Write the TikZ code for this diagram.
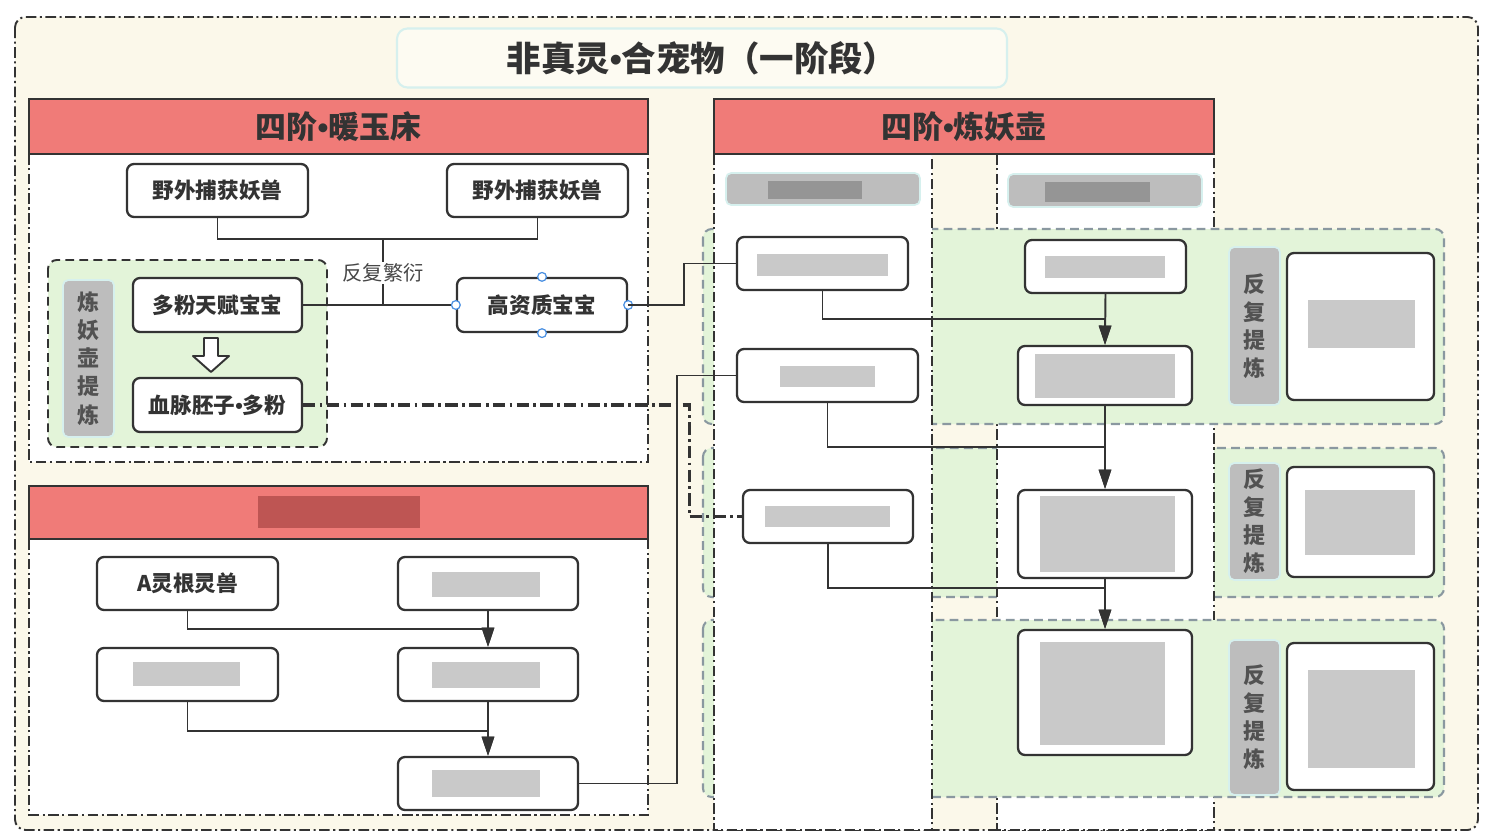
\documentclass[tikz,border=0pt]{standalone}
\usepackage{fontspec}
\setmainfont{Noto Sans CJK SC}
\newfontfamily\dotfont{Liberation Sans}
\newcommand{\mdot}{{\dotfont\bfseries •}}
\usetikzlibrary{arrows.meta}
\definecolor{ink}{HTML}{333333}
\definecolor{cream}{HTML}{FBF8EA}
\definecolor{leaf}{HTML}{E3F4D9}
\definecolor{salmon}{HTML}{F07B78}
\definecolor{lbl}{HTML}{BDBDBD}
\definecolor{cyanedge}{HTML}{D6F0EE}
\definecolor{grpedge}{HTML}{8A98A0}
\definecolor{handle}{HTML}{4A90E2}
\tikzset{
  bx/.style={draw=ink, fill=white, line width=1.3pt, rounded corners=4pt, inner sep=0pt,
    font=\bfseries\fontsize{12.3}{14}\selectfont, text=ink},
  sz/.style 2 args={minimum width=#1*0.02cm, minimum height=#2*0.02cm},
  hdr/.style={draw=ink, fill=salmon, line width=1.2pt, inner sep=0pt,
    font=\bfseries\fontsize{17.6}{20}\selectfont, text=ink},
  ddot/.style={dash pattern=on 6pt off 2pt on 1.2pt off 2pt},
  panel/.style={draw=ink, fill=white, line width=0.9pt, ddot},
  grp/.style={fill=leaf, draw=grpedge, line width=1.2pt, dash pattern=on 5pt off 3pt, rounded corners=5pt},
  vlabel/.style={fill=lbl, draw=cyanedge, line width=1pt, rounded corners=3pt, inner sep=0pt,
    align=center, font=\bfseries\fontsize{12.5}{16}\selectfont, text=ink!85},
  conn/.style={draw=ink, line width=1.1pt},
  arr/.style={conn, -{Triangle[length=11pt,width=7pt]}},
  blur/.style={fill=gray!70, opacity=0.6},
  hnd/.style={circle, draw=handle, fill=white, line width=0.7pt, inner sep=0pt, minimum size=5pt}
}
\begin{document}
\begin{tikzpicture}[x=0.02cm,y=-0.02cm]
\useasboundingbox (0,0) rectangle (1505,838);
\fill[white] (0,0) rectangle (1505,838);
% outer frame
\draw[fill=cream, draw=ink, line width=1.1pt, ddot, rounded corners=6pt] (15,17) rectangle (1478,830);
% title
\node[draw=cyanedge, fill=cream!60!white, line width=1.2pt, rounded corners=6pt, sz={610}{59},
  font=\bfseries\fontsize{19.6}{22}\selectfont, text=ink] (title) at (702,58) {非真灵\mdot 合宠物（一阶段）};

% ===== left panel 1 =====
\draw[panel] (29,154) rectangle (648,462);
\node[hdr, sz={619}{55}] (h1) at (338.5,126.5) {四阶\mdot 暖玉床};
\draw[fill=leaf, draw=ink, line width=1.1pt, dash pattern=on 5pt off 3pt, rounded corners=5pt] (48,260) rectangle (327,447);
\node[vlabel, sz={51}{157}] (lbl1) at (88.5,358.5) {炼\\妖\\壶\\提\\炼};
\node[bx, sz={181}{53}] (n1) at (217.5,190.5) {野外捕获妖兽};
\node[bx, sz={181}{53}] (n2) at (537.5,190.5) {野外捕获妖兽};
\node[bx, sz={169}{54}] (n3) at (217.5,305) {多粉天赋宝宝};
\node[bx, sz={169}{54}] (n4) at (217.5,405) {血脉胚子\mdot 多粉};
\node[bx, sz={170}{54}] (n5) at (542,305) {高资质宝宝};
\draw[draw=ink, fill=white, line width=1.1pt, line join=round]
  (204,338) -- (218,338) -- (218,356) -- (229,356) -- (211,372) -- (193,356) -- (204,356) -- cycle;
\coordinate (j1) at (383,239);
\draw[conn] (n1.south) |- (j1) -| (n2.south);
\draw[conn] (j1) -- (j1 |- n3.east);
\draw[conn] (n3.east) -- (n5.west);
\node[fill=white, inner sep=1pt, font=\fontsize{11.5}{13}\selectfont, text=ink!90] (rep) at (383,273) {反复繁衍};
\node[hnd] (hN) at (n5.north) {};
\node[hnd] (hS) at (n5.south) {};
\node[hnd] (hW) at (n5.west) {};
\node[hnd] (hE) at (n5.east) {};

% ===== left panel 2 =====
\draw[panel] (29,539) rectangle (648,815);
\node[hdr, sz={619}{53}] (h2) at (338.5,512.5) {};
\fill[red!30!black, opacity=0.3] (258,496) rectangle (420,528);
\node[bx, sz={181}{53}] (a1) at (187.5,583.5) {A灵根灵兽};
\node[bx, sz={180}{53}] (a2) at (488,583.5) {};
\node[bx, sz={181}{53}] (a3) at (187.5,674.5) {};
\node[bx, sz={180}{53}] (a4) at (488,674.5) {};
\node[bx, sz={180}{53}] (a5) at (488,783.5) {};
\fill[blur] (432,572) rectangle (540,597);
\fill[blur] (133,662) rectangle (240,686);
\fill[blur] (432,662) rectangle (540,688);
\fill[blur] (432,770) rectangle (540,797);
\draw[arr] (a1.south) -- ++(0,18) -| (a4.north);
\draw[arr] (a2.south) -- (a4.north);
\draw[arr] (a3.south) -- ++(0,29) -| (a5.north);
\draw[arr] (a4.south) -- (a5.north);

% ===== right panel =====
\draw[grp] (703,448) rectangle (1444,597);
\draw[panel] (997,154) rectangle (1214,830);
\draw[grp] (703,229) rectangle (1444,424);
\draw[grp] (703,620) rectangle (1444,797);
\draw[panel] (714,154) rectangle (932,830);
\node[hdr, sz={500}{55}] (h3) at (964,126.5) {四阶\mdot 炼妖壶};
\node[fill=lbl, draw=cyanedge, line width=1pt, rounded corners=3pt, sz={194}{32}] (s1) at (823,189) {};
\node[fill=lbl, draw=cyanedge, line width=1pt, rounded corners=3pt, sz={194}{33}] (s2) at (1105,190.5) {};
\fill[gray!80!black, opacity=0.45] (768,181) rectangle (862,199);
\fill[gray!80!black, opacity=0.45] (1045,182) rectangle (1150,202);

\node[bx, sz={171}{53}] (r1) at (822.5,263.5) {};
\node[bx, sz={161}{53}] (r2) at (1105.5,266.5) {};
\node[bx, sz={174}{59}] (r3) at (1105,375.5) {};
\node[bx, sz={181}{53}] (r4) at (827.5,375.5) {};
\node[bx, sz={170}{53}] (r5) at (828,516.5) {};
\node[bx, sz={174}{88}] (r6) at (1105,534) {};
\node[bx, sz={174}{125}] (r7) at (1105,692.5) {};
\node[vlabel, sz={51}{158}] (g1) at (1254.5,326) {反\\复\\提\\炼};
\node[bx, sz={147}{147}] (b1) at (1360.5,326.5) {};
\node[vlabel, sz={51}{117}] (g2) at (1254.5,521.5) {反\\复\\提\\炼};
\node[bx, sz={147}{110}] (b2) at (1360.5,522) {};
\node[vlabel, sz={51}{155}] (g3) at (1254.5,717.5) {反\\复\\提\\炼};
\node[bx, sz={147}{147}] (b3) at (1360.5,716.5) {};
\fill[blur] (757,254) rectangle (888,276);
\fill[blur] (1045,256) rectangle (1165,278);
\fill[blur] (1035,354) rectangle (1175,398);
\fill[blur] (780,366) rectangle (875,387);
\fill[blur] (765,506) rectangle (890,527);
\fill[blur] (1040,496) rectangle (1175,572);
\fill[blur] (1040,642) rectangle (1165,745);
\fill[blur] (1308,300) rectangle (1415,348);
\fill[blur] (1305,490) rectangle (1415,555);
\fill[blur] (1308,670) rectangle (1415,768);

\draw[arr] (r1.south) -- ++(0,28) -| (r3.north);
\draw[arr] (r2.south) -- (r3.north);
\draw[arr] (r4.south) -- ++(0,44) -| (r6.north);
\draw[arr] (r3.south) -- (r6.north);
\draw[arr] (r5.south) -- ++(0,44) -| (r7.north);
\draw[arr] (r6.south) -- (r7.north);

% ===== cross connectors =====
\draw[conn] (n5.east) -- ++(56,0) |- (r1.west);
\draw[conn] (a5.east) -- ++(98,0) |- (r4.west);
\draw[draw=ink, line width=1.8pt, dash pattern=on 7pt off 2.5pt on 1.5pt off 2.5pt] (n4.east) -- ++(386,0) |- (r5.west);
\end{tikzpicture}
\end{document}
